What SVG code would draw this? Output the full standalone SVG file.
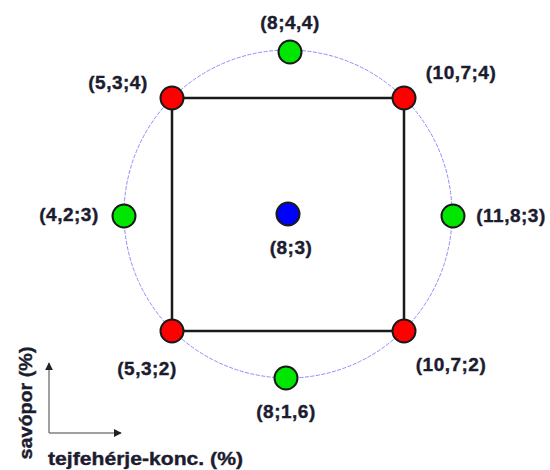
<svg xmlns="http://www.w3.org/2000/svg" width="550" height="470" viewBox="0 0 550 470">
<defs>
<style>
.lbl{font-family:"Liberation Sans",Arial,sans-serif;font-weight:bold;font-size:19px;fill:#1c1c30;stroke:#1c1c30;stroke-width:0.4px;text-anchor:middle;letter-spacing:0.5px}
.ax{font-family:"Liberation Sans",Arial,sans-serif;font-weight:bold;font-size:19px;fill:#1c1c30;stroke:#1c1c30;stroke-width:0.4px}
.red{fill:#ff0000;stroke:#1a1a1a;stroke-width:2}
.green{fill:#00e600;stroke:#1a1a1a;stroke-width:2}
.blue{fill:#0000ff;stroke:#1a1a1a;stroke-width:2}
.axis{stroke:#808080;stroke-width:1.5;fill:none}
</style>
<marker id="arr" viewBox="0 0 10 10" refX="9" refY="5" markerWidth="8" markerHeight="8" markerUnits="userSpaceOnUse" orient="auto">
<path d="M0,0 L10,5 L0,10 Z" fill="#222"/>
</marker>
</defs>
<rect width="550" height="470" fill="#ffffff"/>
<g id="connectors">
<circle cx="288" cy="214" r="164" fill="none" stroke="#8c8cff" stroke-width="1" stroke-dasharray="4,1.5"/>
<rect x="172" y="98" width="232" height="233" fill="none" stroke="#1a1a1a" stroke-width="2.5"/>
</g>
<g id="axes">
<line class="axis" x1="49" y1="433" x2="49" y2="363" marker-end="url(#arr)"/>
<line class="axis" x1="49" y1="433" x2="121" y2="433" marker-end="url(#arr)"/>
<text class="ax" transform="translate(32,403) rotate(-90)" text-anchor="middle" textLength="113" lengthAdjust="spacingAndGlyphs">savópor (%)</text>
<text class="ax" x="48" y="465" textLength="195" lengthAdjust="spacingAndGlyphs">tejfehérje-konc. (%)</text>
</g>
<g id="n534"><circle class="red" cx="172" cy="98" r="11.5"/><text class="lbl" x="118" y="89">(5,3;4)</text></g>
<g id="n1074"><circle class="red" cx="404" cy="98" r="11.5"/><text class="lbl" x="461" y="79">(10,7;4)</text></g>
<g id="n532"><circle class="red" cx="172" cy="331" r="11.5"/><text class="lbl" x="147" y="375">(5,3;2)</text></g>
<g id="n1072"><circle class="red" cx="404" cy="331" r="11.5"/><text class="lbl" x="451" y="371">(10,7;2)</text></g>
<g id="n844"><circle class="green" cx="290" cy="52" r="11.5"/><text class="lbl" x="290" y="29">(8;4,4)</text></g>
<g id="n816"><circle class="green" cx="286" cy="378" r="11.5"/><text class="lbl" x="286" y="418">(8;1,6)</text></g>
<g id="n423"><circle class="green" cx="124" cy="216" r="11.5"/><text class="lbl" x="69" y="221">(4,2;3)</text></g>
<g id="n1183"><circle class="green" cx="453" cy="216" r="11.5"/><text class="lbl" x="511" y="222">(11,8;3)</text></g>
<g id="n83"><circle class="blue" cx="288" cy="214" r="11.5"/><text class="lbl" x="291" y="254">(8;3)</text></g>
</svg>
